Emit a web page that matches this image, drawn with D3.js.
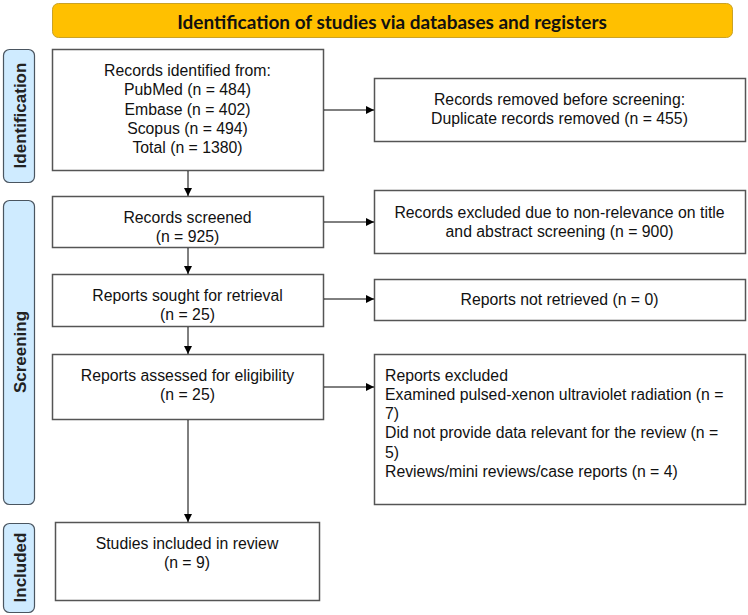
<!DOCTYPE html>
<html>
<head>
<meta charset="utf-8">
<script src="https://cdn.jsdelivr.net/npm/d3@7"></script>
<style>
  body { margin: 0; background: #fff; }
  svg { display: block; }
</style>
</head>
<body>
<div id="chart"></div>
<script>
// flow diagram content
var headerTitle = "Identification of studies via databases and registers";
var phaseNames = ["Identification", "Screening", "Included"];
var mainBoxes = [
  ["Records identified from:", "PubMed (n = 484)", "Embase (n = 402)", "Scopus (n = 494)", "Total (n = 1380)"],
  ["Records screened", "(n = 925)"],
  ["Reports sought for retrieval", "(n = 25)"],
  ["Reports assessed for eligibility", "(n = 25)"],
  ["Studies included in review", "(n = 9)"]
];
var sideBoxes = [
  ["Records removed before screening:", "Duplicate records removed (n = 455)"],
  ["Records excluded due to non-relevance on title", "and abstract screening (n = 900)"],
  ["Reports not retrieved (n = 0)"],
  ["Reports excluded", "Examined pulsed-xenon ultraviolet radiation (n =", "7)", "Did not provide data relevant for the review (n =", "5)", "Reviews/mini reviews/case reports (n = 4)"]
];

// layout (pixels)
var W = 748, H = 615;
var mainGeom = [
  {x: 52, y: 49, w: 271, h: 121, ty: 109},
  {x: 52, y: 196, w: 271, h: 51, ty: 227},
  {x: 52, y: 274, w: 271, h: 52, ty: 305},
  {x: 52, y: 354, w: 271, h: 65, ty: 385},
  {x: 55, y: 522, w: 264, h: 78, ty: 553}
];
var sideGeom = [
  {x: 374, y: 78, w: 371, h: 63, ty: 109, align: "middle", ay: 110},
  {x: 374, y: 190, w: 371, h: 63, ty: 222, align: "middle", ay: 222},
  {x: 374, y: 279, w: 371, h: 41, ty: 299.5, align: "middle", ay: 299},
  {x: 374, y: 354, w: 371, h: 150, ty: 375, align: "start", ay: 387, top: true}
];
var phaseGeom = [
  {y: 49, h: 133},
  {y: 200, h: 304},
  {y: 523, h: 89}
];
var lineH = 19.3;
var arrowX = 188;

var svg = d3.select("#chart").append("svg")
  .attr("width", W).attr("height", H);

svg.append("defs").append("marker")
  .attr("id", "arr")
  .attr("viewBox", "0 0 10 10")
  .attr("refX", 10).attr("refY", 5)
  .attr("markerWidth", 8).attr("markerHeight", 8)
  .attr("markerUnits", "userSpaceOnUse")
  .attr("orient", "auto")
  .append("path").attr("d", "M0,0L10,5L0,10Z").attr("fill", "#000");

// header
svg.append("rect")
  .attr("x", 52.5).attr("y", 3.5).attr("width", 680).attr("height", 34)
  .attr("rx", 6).attr("fill", "#FFC000").attr("stroke", "#C9A227").attr("stroke-width", 1);
var ht = svg.append("text")
  .attr("x", 392).attr("y", 21)
  .attr("text-anchor", "middle").attr("dominant-baseline", "central")
  .style("font-family", "Lato, 'Open Sans', sans-serif")
  .style("font-weight", "bold").style("font-size", "18px")
  .attr("fill", "#111")
  .text(headerTitle);
var hl = ht.node().getComputedTextLength();
ht.style("font-size", (18 * 430 / hl) + "px");

// phase labels
var ph = svg.selectAll(".phase").data(phaseNames).enter().append("g").attr("class", "phase");
ph.append("rect")
  .attr("x", 3.5).attr("y", function(d, i) { return phaseGeom[i].y + 0.5; })
  .attr("width", 31).attr("height", function(d, i) { return phaseGeom[i].h; })
  .attr("rx", 6).attr("fill", "#CFEBFF").attr("stroke", "#4a5560").attr("stroke-width", 1.2);
ph.append("text")
  .attr("transform", function(d, i) {
    return "translate(20," + (phaseGeom[i].y + phaseGeom[i].h / 2) + ") rotate(-90)";
  })
  .attr("text-anchor", "middle").attr("dominant-baseline", "central")
  .style("font-family", "'Liberation Sans', Arial, sans-serif")
  .style("font-weight", "bold").style("font-size", "17px")
  .attr("fill", "#222")
  .text(function(d) { return d; });

function drawBox(lines, g) {
  svg.append("rect")
    .attr("x", g.x + 0.5).attr("y", g.y + 0.5).attr("width", g.w).attr("height", g.h)
    .attr("fill", "#fff").attr("stroke", "#555").attr("stroke-width", 1.5);
  var n = lines.length;
  var t = svg.append("text")
    .style("font-family", "'Liberation Sans', Arial, sans-serif")
    .style("font-size", "15.8px").attr("fill", "#111")
    .attr("text-anchor", g.align || "middle");
  t.selectAll("tspan").data(lines).enter().append("tspan")
    .attr("x", g.align === "start" ? g.x + 11 : g.x + g.w / 2)
    .attr("y", function(d, i) {
      if (g.top) return g.ty + i * lineH;
      return g.ty + (i - (n - 1) / 2) * lineH;
    })
    .attr("dominant-baseline", "central")
    .text(function(d) { return d; });
}

mainBoxes.forEach(function(lines, i) { drawBox(lines, mainGeom[i]); });
sideBoxes.forEach(function(lines, i) { drawBox(lines, sideGeom[i]); });

// vertical arrows
for (var i = 0; i < mainGeom.length - 1; i++) {
  svg.append("line")
    .attr("x1", arrowX).attr("x2", arrowX)
    .attr("y1", mainGeom[i].y + mainGeom[i].h + 1)
    .attr("y2", mainGeom[i + 1].y)
    .attr("stroke", "#000").attr("stroke-width", 1)
    .attr("marker-end", "url(#arr)");
}
// horizontal arrows
sideGeom.forEach(function(g, i) {
  svg.append("line")
    .attr("x1", mainGeom[i].x + mainGeom[i].w + 1).attr("x2", g.x)
    .attr("y1", g.ay).attr("y2", g.ay)
    .attr("stroke", "#000").attr("stroke-width", 1)
    .attr("marker-end", "url(#arr)");
});
</script>
</body>
</html>
